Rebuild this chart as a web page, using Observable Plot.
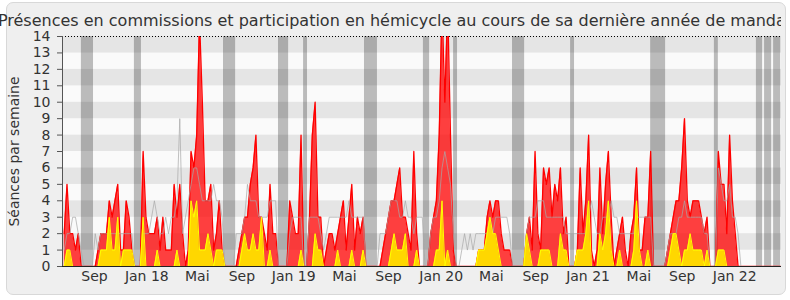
<!DOCTYPE html>
<html>
<head>
<meta charset="utf-8">
<script src="https://cdn.jsdelivr.net/npm/d3@7"></script>
<script src="https://cdn.jsdelivr.net/npm/@observablehq/plot@0.6"></script>
<style>
  html, body { margin: 0; padding: 0; background: #ffffff; }
  #wrap { position: relative; width: 790px; height: 300px; overflow: hidden; font-family: "DejaVu Sans", sans-serif; }
  #panel { position: absolute; left: 6px; top: 2px; width: 780px; height: 293px; box-sizing: border-box;
           background: #efefef; border: 1px solid #d8d8d8; border-radius: 7px; }
  #titleclip { position: absolute; left: 0; top: 0; width: 781px; height: 34px; overflow: hidden; }
  #title { position: absolute; left: 395px; top: 13px; transform: translateX(-50%); white-space: nowrap;
           font-size: 16px; line-height: 16px; color: #333; }
  #chart { position: absolute; left: 0; top: 0; }
</style>
</head>
<body>
<div id="wrap">
  <div id="panel"></div>
  <div id="titleclip"><div id="title">Présences en commissions et participation en hémicycle au cours de sa dernière année de mandat</div></div>
  <div id="chart"></div>
</div>
<script>
// Weekly values (index 0 = first week of the period)
const hemicycle = [
  2,5,2,2,1,2,0,0,0,0, 0,0,1,2,2,2,4,3,4,5, 1,1,4,3,1,0,0,0,7,3, 2,2,2,3,1,3,1,1,1,5,
  3,5,2,0,1,7,6,8,15,10, 4,4,5,1,2,4,1,0,0,0, 0,0,1,2,3,3,5,6,8,3, 3,2,1,5,2,2,0,0,0,0,
  4,3,2,2,8,0,0,3,8,10, 3,3,0,1,2,2,1,2,3,4, 1,3,5,1,3,2,3,0,0,0, 0,0,0,1,2,3,4,4,5,6,
  3,3,2,1,7,2,0,0,0,0, 2,3,4,8,16,10,16,8,1,0, 0,0,0,0,0,0,0,1,1,1, 3,4,3,4,4,2,1,1,1,0,
  0,0,0,0,2,3,1,7,2,1, 6,5,6,3,5,4,6,2,3,0, 0,0,1,6,2,4,8,1,0,1, 6,2,5,7,3,0,1,2,3,1,
  0,2,3,6,1,1,3,3,7,0, 0,0,0,0,1,2,3,4,4,6, 9,4,3,4,4,4,3,2,3,0, 0,0,7,5,5,2,8,4,2,0,
  0,0,0,0,0,0,0,0,0,0, 0,0,0,0,0
];
const commissions = [
  0,1,1,0,0,0,0,0,0,0, 0,0,0,1,1,1,3,1,1,3, 0,1,1,1,1,0,0,0,3,0, 0,0,0,1,0,0,0,0,0,0,
  1,0,0,0,0,4,3,4,1,1, 1,2,1,0,1,1,1,0,0,0, 0,0,0,1,2,1,1,2,1,1, 3,0,0,1,0,0,0,0,0,0,
  0,0,0,0,1,0,0,0,0,2, 1,1,0,0,0,0,0,1,0,0, 0,0,1,0,0,0,1,0,0,0, 0,0,0,0,0,0,1,2,1,1,
  1,2,0,0,0,1,0,0,0,0, 0,0,1,1,4,0,1,0,0,0, 0,0,0,0,0,0,0,1,1,1, 2,3,2,2,1,0,0,0,0,0,
  0,0,0,0,2,1,0,0,0,1, 1,1,1,0,0,0,2,1,1,0, 0,0,1,1,1,2,4,0,0,0, 2,1,2,4,1,0,0,1,0,0,
  0,0,1,4,1,0,0,1,0,0, 0,0,0,0,0,1,2,2,1,0, 1,1,2,1,1,1,1,0,1,0, 0,0,1,1,1,0,0,0,0,0,
  0,0,0,0,0,0,0,0,0,0, 0,0,0,0,0
];
const median = [
  1,2,2,3,3,2,1,0,0,0, 0,2,1,2,2,2,2,2,2,2, 2,2,2,2,2,0,0,0,2,2, 2,3,4,3,2,2,3,2,3,3,
  4,9,2,3,4,5,6,6,5,4, 4,4,4,5,4,4,3,0,0,0, 0,2,2,2,3,5,4,4,4,3, 3,3,3,4,4,4,0,0,0,0,
  2,3,3,3,3,0,0,3,3,3, 3,2,1,2,3,3,3,3,3,3, 3,4,3,3,3,3,3,0,0,0, 0,0,2,2,2,3,4,4,4,3,
  3,4,3,3,2,3,3,3,0,0, 2,3,3,4,6,7,6,5,2,0, 0,1,2,1,2,1,2,2,2,2, 2,3,2,3,3,3,3,3,2,0,
  0,0,0,0,2,3,3,3,4,4, 4,3,3,3,3,3,3,3,2,2, 2,2,2,2,2,2,3,4,3,2, 2,3,3,3,4,3,3,2,2,2,
  2,2,2,3,3,3,3,3,3,0, 0,0,0,0,1,2,2,2,3,3, 4,3,3,3,3,3,3,2,2,0, 0,0,6,5,4,4,5,3,3,2,
  0,0,0,0,0,0,0,0,0,0, 0,0,0,0,0
];
// Parliamentary recess periods (in week units)
const vacStart = [6.1, 24.9, 56.5, 76.0, 84.9, 106.5, 127.4, 138.1, 159.0, 179.6, 208.0, 230.6, 245.5, 248.4, 251.6];
const vacEnd   = [10.4, 27.4, 60.8, 79.6, 86.3, 111.1, 129.6, 139.5, 163.3, 181.0, 213.3, 232.0, 247.7, 250.9, 254.1];
// Month labels on the time axis (in week units)
const tickWeeks  = [10.75, 29.3, 47.2, 63.0, 81.4, 99.4, 115.0, 133.7, 151.5, 167.2, 185.8, 203.8, 219.2, 237.8];
const tickLabels = ["Sep", "Jan 18", "Mai", "Sep", "Jan 19", "Mai", "Sep", "Jan 20", "Mai", "Sep", "Jan 21", "Mai", "Sep", "Jan 22"];
const yTicks = d3.range(0, 15);
const xDomain = [-0.6, 254.4];

const weeks = hemicycle.map((v, i) => ({i, red: v, yellow: commissions[i], gray: median[i]}));
const vacations = vacStart.map((s, k) => ({s, e: vacEnd[k]}));
const bands = d3.range(0, d3.max(yTicks));
const yMax = d3.max(yTicks);
const labelOf = new Map(tickWeeks.map((w, k) => [w, tickLabels[k]]));

const chart = Plot.plot({
  width: 790,
  height: 300,
  marginTop: 36,
  marginBottom: 34,
  marginLeft: 62,
  marginRight: 9,
  style: {fontFamily: "DejaVu Sans, sans-serif", fontSize: "14px", color: "#333", background: "transparent", overflow: "visible"},
  x: {domain: xDomain},
  y: {domain: [0, yMax]},
  marks: [
    Plot.rect(bands, {x1: () => xDomain[0], x2: () => xDomain[1], y1: d => d, y2: d => d + 1,
      fill: d => d % 2 === 1 ? "#e5e5e5" : "#fafafa"}),
    Plot.rect(vacations, {x1: "s", x2: "e", y1: () => 0, y2: () => yMax, fill: "#000", fillOpacity: 0.25}),
    Plot.areaY(weeks, {x: "i", y: "red", fill: "#ff0000", fillOpacity: 0.75, clip: true}),
    Plot.lineY(weeks, {x: "i", y: "red", stroke: "#ff0000", strokeWidth: 1.3, clip: true}),
    Plot.lineY(weeks, {x: "i", y: "gray", stroke: "#a8a8a8", strokeOpacity: 0.7, strokeWidth: 1, clip: true}),
    Plot.areaY(weeks, {x: "i", y: "yellow", fill: "#ffd700", clip: true}),
    Plot.lineY(weeks, {x: "i", y: "yellow", stroke: "#ffff00", strokeWidth: 1, clip: true}),
    Plot.ruleY([yMax], {stroke: "#000", strokeDasharray: "1,2", strokeWidth: 1}),
    Plot.ruleX([xDomain[0]], {stroke: "#555", strokeWidth: 1}),
    Plot.ruleY([0], {stroke: "#222", strokeWidth: 1.2}),
    Plot.axisY({ticks: yTicks, tickSize: 5, tickPadding: 7, label: null, stroke: "#555", fontSize: 14}),
    Plot.axisX({ticks: tickWeeks, tickFormat: d => labelOf.get(d), tickSize: 0, tickPadding: 5, label: null, fontSize: 14}),
    Plot.text(["Séances par semaine"], {frameAnchor: "left", dx: -48, rotate: -90, textAnchor: "middle", fontSize: 14, fill: "#333"})
  ]
});
document.getElementById("chart").appendChild(chart);
</script>
</body>
</html>
